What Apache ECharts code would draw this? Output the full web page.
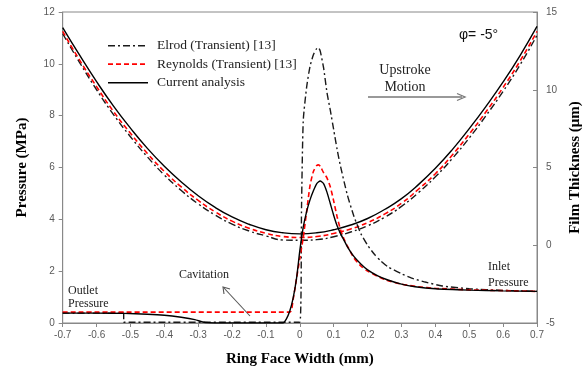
<!DOCTYPE html>
<html><head><meta charset="utf-8">
<script src="https://cdn.jsdelivr.net/npm/echarts@6/dist/echarts.min.js"></script>
<style>html,body{margin:0;padding:0;background:#fff}#c{width:586px;height:369px}</style>
</head><body><div id="c"></div>
<script>
// ---- Data ----
const xTicks = [-0.7,-0.6,-0.5,-0.4,-0.3,-0.2,-0.1,0,0.1,0.2,0.3,0.4,0.5,0.6,0.7];

// Pressure (MPa), left axis
const elrodPX = [-0.7,-0.52,-0.52,-0.1,0.0,0.005,0.01,0.02,0.03,0.04,0.05,0.055,0.06,0.07,0.08,0.09,0.1,0.11,0.12,0.14,0.16,0.18,0.2,0.22,0.24,0.26,0.3,0.33,0.37,0.42,0.5,0.6,0.7];
const elrodP  = [0.38,0.38,0.03,0.03,0.03,4.5,7.8,9.1,9.9,10.35,10.6,10.62,10.5,9.85,8.9,8.2,7.45,6.7,6.05,4.95,4.1,3.45,3.0,2.65,2.38,2.17,1.9,1.73,1.58,1.43,1.32,1.26,1.22];

const reyPX = [-0.7,-0.03,-0.02,-0.01,0.0,0.01,0.02,0.03,0.04,0.05,0.055,0.06,0.07,0.08,0.09,0.1,0.11,0.12,0.13,0.14,0.16,0.18,0.2,0.25,0.3,0.35,0.4,0.5,0.6,0.7];
const reyP  = [0.42,0.42,0.9,1.7,2.5,3.3,4.3,5.3,5.85,6.08,6.1,6.05,5.8,5.6,5.25,4.7,4.1,3.6,3.25,2.98,2.5,2.2,2.0,1.68,1.5,1.4,1.34,1.28,1.25,1.22];

const curPX = [-0.7,-0.6,-0.52,-0.45,-0.4,-0.35,-0.31,-0.28,-0.2,-0.1,-0.05,-0.04,-0.03,-0.02,-0.01,0.0,0.01,0.02,0.03,0.04,0.05,0.06,0.07,0.08,0.09,0.1,0.11,0.12,0.13,0.14,0.16,0.18,0.2,0.23,0.26,0.3,0.34,0.4,0.5,0.6,0.7];
const curP  = [0.38,0.38,0.37,0.34,0.3,0.22,0.13,0.02,0.0,0.0,0.0,0.15,0.45,0.95,1.7,2.8,3.7,4.3,4.75,5.1,5.38,5.48,5.38,5.05,4.6,4.15,3.75,3.45,3.2,2.95,2.56,2.28,2.05,1.82,1.66,1.5,1.4,1.32,1.27,1.24,1.22];

// Film thickness (um), right axis
const filmX = [-0.7,-0.65,-0.6,-0.55,-0.5,-0.45,-0.4,-0.35,-0.3,-0.25,-0.2,-0.15,-0.1,-0.05,0,0.05,0.1,0.15,0.2,0.25,0.3,0.35,0.4,0.45,0.5,0.55,0.6,0.65,0.7];
const curH   = [14.0,12.22,10.52,8.95,7.53,6.23,5.08,4.07,3.18,2.43,1.82,1.35,1.0,0.8,0.73,0.8,1.0,1.3,1.72,2.3,3.0,3.9,4.95,6.15,7.5,8.95,10.5,12.2,14.07];
const reyH   = [13.75,11.9,10.2,8.6,7.2,5.9,4.75,3.75,2.88,2.15,1.55,1.1,0.77,0.56,0.5,0.56,0.76,1.05,1.45,2.0,2.7,3.6,4.6,5.8,7.15,8.6,10.15,11.85,13.75];
const elrodH = [13.6,11.75,10.0,8.4,6.98,5.68,4.52,3.52,2.66,1.94,1.36,0.92,0.6,0.34,0.32,0.36,0.55,0.85,1.25,1.8,2.5,3.38,4.4,5.58,6.9,8.35,9.9,11.6,13.5];

const names = ['Elrod (Transient) [13]','Reynolds (Transient) [13]','Current analysis'];

function pairs(xs, ys){ return xs.map((x,i)=>[x, ys[i]]); }

const dashDot = [7,3,2,3];
const styles = [
  {color:'#1a1a1a', width:1.4, type:dashDot},
  {color:'#ff0000', width:1.6, type:[5,3]},
  {color:'#000000', width:1.4, type:'solid'}
];

const chart = echarts.init(document.getElementById('c'), null, {renderer:'canvas'});
const tickLabel = {color:'#595959', fontSize:10, fontFamily:'Liberation Sans, Arial, sans-serif'};
const axisLine = {show:true, onZero:false, lineStyle:{color:'#888', width:1}};
const titleFont = {fontFamily:'Liberation Serif, Times New Roman, serif', fontWeight:'bold', fontSize:15, color:'#000'};
const serif = 'Liberation Serif, Times New Roman, serif';

const series = [];
const pData = [pairs(elrodPX,elrodP), pairs(reyPX,reyP), pairs(curPX,curP)];
const hData = [pairs(filmX,elrodH), pairs(filmX,reyH), pairs(filmX,curH)];
for (let i=0;i<3;i++){
  series.push({name:names[i], type:'line', yAxisIndex:1, data:hData[i], smooth:true, symbol:'none', lineStyle:styles[i], itemStyle:{color:styles[i].color}, z:2+i});
}
for (let i=0;i<3;i++){
  series.push({name:names[i], type:'line', yAxisIndex:0, data:pData[i], smooth:0.2, symbol:'none', lineStyle:styles[i], itemStyle:{color:styles[i].color}, z:5+i});
}

// manual legend graphics
const legendG = [];
const legendY = [45.7, 64.2, 82.7];
for (let i=0;i<3;i++){
  legendG.push({type:'line', shape:{x1:108, y1:legendY[i], x2:148, y2:legendY[i]},
    style:{stroke:styles[i].color, lineWidth:styles[i].width+0.2, lineDash: Array.isArray(styles[i].type)? styles[i].type : null}});
  legendG.push({type:'text', x:157, y:legendY[i], style:{text:names[i], font:'13.5px '+serif, fill:'#222', textVerticalAlign:'middle'}});
}

chart.setOption({
  animation:false,
  backgroundColor:'#fff',
  grid:{left:62.7, right:49, top:12, bottom:46, show:true, borderColor:'#888', borderWidth:1, containLabel:false, outerBoundsMode:'none'},
  xAxis:{
    type:'value', min:-0.7, max:0.7, interval:0.1,
    axisLine:axisLine, axisTick:{show:true, length:4, lineStyle:{color:'#888'}},
    splitLine:{show:false},
    axisLabel:Object.assign({margin:7, formatter:v=>{ const r=Math.round(v*10)/10; return xTicks.includes(r)? String(r):''; }}, tickLabel),
    name:'Ring Face Width (mm)', nameLocation:'middle', nameGap:29, nameTextStyle:titleFont
  },
  yAxis:[
    {type:'value', min:0, max:12, interval:2, position:'left',
     axisLine:axisLine, axisTick:{show:true, length:4, lineStyle:{color:'#888'}}, splitLine:{show:false},
     axisLabel:Object.assign({margin:8}, tickLabel),
     name:'Pressure (MPa)', nameLocation:'middle', nameGap:33, nameRotate:90, nameTextStyle:titleFont},
    {type:'value', min:-5, max:15, interval:5, position:'right',
     axisLine:axisLine, axisTick:{show:true, inside:true, length:4, lineStyle:{color:'#888'}}, splitLine:{show:false},
     axisLabel:Object.assign({margin:9}, tickLabel),
     name:'Film Thickness (μm)', nameLocation:'middle', nameGap:30, nameRotate:90, nameTextStyle:titleFont}
  ],
  graphic:legendG.concat([
    {type:'text', left:459, top:28, style:{text:'φ= -5°', font:'14px Liberation Sans, Arial, sans-serif', fill:'#111'}},
    {type:'text', x:405, y:70, style:{text:'Upstroke', font:'14px '+serif, fill:'#222', textAlign:'center', textVerticalAlign:'middle'}},
    {type:'text', x:405, y:87, style:{text:'Motion', font:'14px '+serif, fill:'#222', textAlign:'center', textVerticalAlign:'middle'}},
    {type:'line', shape:{x1:368, y1:97, x2:462, y2:97}, style:{stroke:'#777', lineWidth:1.3}},
    {type:'polyline', shape:{points:[[457,93.5],[465,97],[457,100.5]]}, style:{stroke:'#777', lineWidth:1.3, fill:null}},
    {type:'text', x:204, y:275, style:{text:'Cavitation', font:'12px '+serif, fill:'#222', textAlign:'center', textVerticalAlign:'middle'}},
    {type:'line', shape:{x1:250, y1:316, x2:224, y2:288}, style:{stroke:'#555', lineWidth:1.1}},
    {type:'polyline', shape:{points:[[224,294],[223,287],[230,289]]}, style:{stroke:'#555', lineWidth:1.1, fill:null}},
    {type:'text', x:68, y:291, style:{text:'Outlet', font:'12px '+serif, fill:'#222', textVerticalAlign:'middle'}},
    {type:'text', x:68, y:304, style:{text:'Pressure', font:'12px '+serif, fill:'#222', textVerticalAlign:'middle'}},
    {type:'text', x:488, y:267, style:{text:'Inlet', font:'12px '+serif, fill:'#222', textVerticalAlign:'middle'}},
    {type:'text', x:488, y:283, style:{text:'Pressure', font:'12px '+serif, fill:'#222', textVerticalAlign:'middle'}}
  ]),
  series:series
});
</script></body></html>
